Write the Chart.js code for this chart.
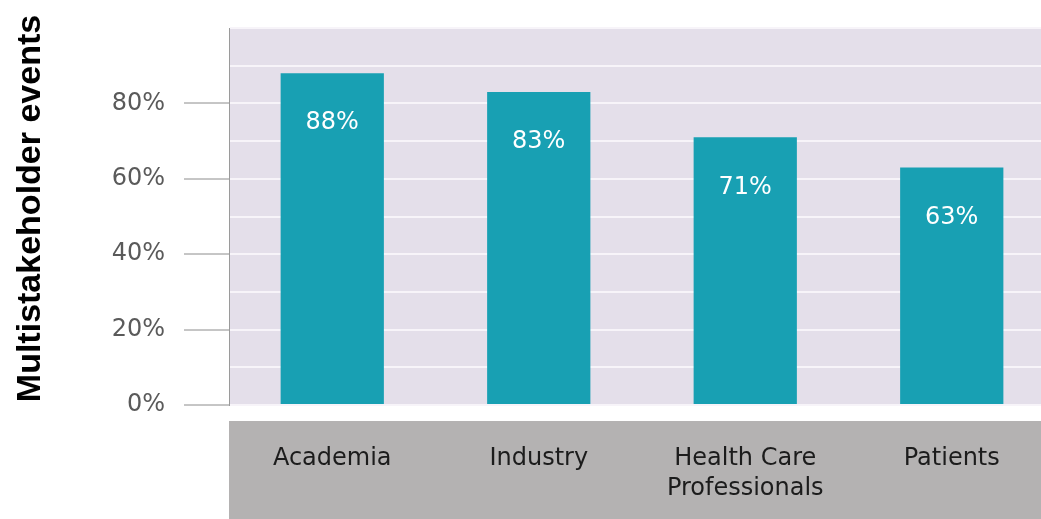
<!DOCTYPE html>
<html>
<head>
<meta charset="utf-8">
<script src="https://cdn.jsdelivr.net/npm/chart.js@4"></script>
<style>
  html, body { margin: 0; padding: 0; background: #ffffff; overflow: hidden; }
  #wrap { width: 1041px; height: 519px; overflow: hidden; }
  canvas { display: block; }
</style>
</head>
<body>
<div id="wrap"><canvas id="c" width="1056" height="519"></canvas></div>
<script>
const categories = ['Academia', 'Industry', ['Health Care', 'Professionals'], 'Patients'];
const values = [88, 83, 71, 63];
const valueLabels = ['88%', '83%', '71%', '63%'];
const yTickLabels = { 0: '0%', 20: '20%', 40: '40%', 60: '60%', 80: '80%' };
const yTitle = 'Multistakeholder events';

const bgPlugin = {
  id: 'bgPlugin',
  beforeDraw(chart) {
    const { ctx, chartArea, scales } = chart;
    ctx.save();
    ctx.fillStyle = '#e4dfea';
    ctx.fillRect(chartArea.left, chartArea.top, chartArea.right - chartArea.left, chartArea.bottom - chartArea.top);
    ctx.fillStyle = '#b4b2b2';
    const top = scales.x.top + 16;
    ctx.fillRect(chartArea.left, top, chart.width - chartArea.left, chart.height - top);
    ctx.restore();
  }
};

const valuePlugin = {
  id: 'valuePlugin',
  afterDatasetsDraw(chart) {
    const { ctx } = chart;
    const meta = chart.getDatasetMeta(0);
    ctx.save();
    ctx.fillStyle = '#ffffff';
    ctx.font = '24px "DejaVu Sans"';
    ctx.textAlign = 'center';
    ctx.textBaseline = 'middle';
    meta.data.forEach((bar, i) => {
      ctx.fillText(valueLabels[i], bar.x, bar.y + 50);
    });
    ctx.restore();
  }
};

const titlePlugin = {
  id: 'titlePlugin',
  afterDraw(chart) {
    const { ctx, chartArea } = chart;
    ctx.save();
    ctx.translate(31, (chartArea.top + chartArea.bottom) / 2 - 8);
    ctx.rotate(-Math.PI / 2);
    ctx.fillStyle = '#000000';
    ctx.font = 'bold 34px "Liberation Sans"';
    ctx.textAlign = 'center';
    ctx.textBaseline = 'middle';
    ctx.fillText(yTitle, 0, 0);
    ctx.restore();
  }
};

new Chart(document.getElementById('c'), {
  type: 'bar',
  data: {
    labels: categories,
    datasets: [{
      data: values,
      backgroundColor: '#18a0b3',
      borderWidth: 0,
      barPercentage: 0.5,
      categoryPercentage: 1.0
    }]
  },
  options: {
    responsive: false,
    animation: false,
    layout: { padding: { top: 28, right: 1, left: 0, bottom: 0 } },
    plugins: { legend: { display: false }, tooltip: { enabled: false } },
    scales: {
      x: {
        grid: { display: false, drawTicks: false },
        border: { display: false },
        ticks: {
          padding: 39,
          color: '#1c1c1c',
          font: { family: '"DejaVu Sans"', size: 24, lineHeight: 1.25 },
          maxRotation: 0,
          autoSkip: false
        },
        afterFit(scale) { scale.height = 114; scale.paddingLeft = 0; scale.paddingRight = 0; }
      },
      y: {
        min: 0,
        max: 100,
        ticks: {
          stepSize: 10,
          padding: 19,
          color: '#5a5a5a',
          font: { family: '"DejaVu Sans"', size: 24 },
          callback(v) { return yTickLabels[v] !== undefined ? yTickLabels[v] : ''; }
        },
        grid: {
          color: '#f7f4f9',
          lineWidth: 2,
          tickLength: 45,
          tickWidth: 1,
          tickColor(ctx) {
            return (ctx.tick && yTickLabels[ctx.tick.value] !== undefined) ? '#8c8c8c' : 'rgba(0,0,0,0)';
          }
        },
        border: { display: true, color: '#9a9a9a', width: 1 },
        afterFit(scale) { scale.width = 229; scale.paddingTop = 0; scale.paddingBottom = 0; }
      }
    }
  },
  plugins: [bgPlugin, valuePlugin, titlePlugin]
});
</script>
</body>
</html>
